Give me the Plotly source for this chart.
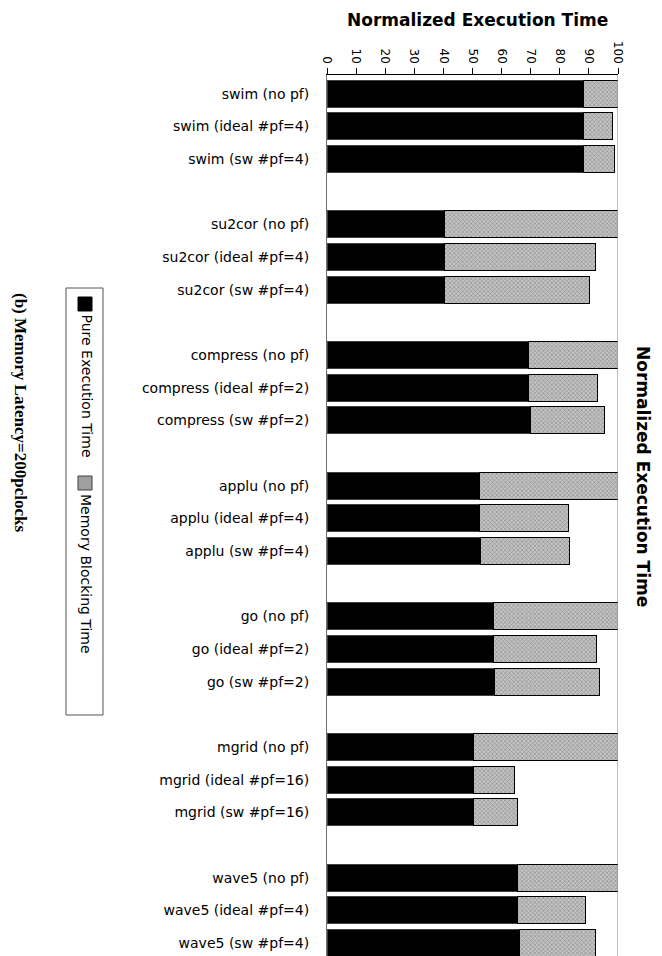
import plotly.graph_objects as go

# ---- data -----------------------------------------------------------------
benchmarks = ["swim", "su2cor", "compress", "applu", "go", "mgrid", "wave5"]
configs = [
    ["(no pf)", "(ideal #pf=4)", "(sw #pf=4)"],
    ["(no pf)", "(ideal #pf=4)", "(sw #pf=4)"],
    ["(no pf)", "(ideal #pf=2)", "(sw #pf=2)"],
    ["(no pf)", "(ideal #pf=4)", "(sw #pf=4)"],
    ["(no pf)", "(ideal #pf=2)", "(sw #pf=2)"],
    ["(no pf)", "(ideal #pf=16)", "(sw #pf=16)"],
    ["(no pf)", "(ideal #pf=4)", "(sw #pf=4)"],
]
pure_exec = [
    88.1, 88.2, 88.2,
    40.5, 40.5, 40.5,
    69.2, 69.2, 70.1,
    52.5, 52.5, 52.9,
    57.3, 57.3, 57.7,
    50.5, 50.2, 50.2,
    65.5, 65.5, 66.0,
]
mem_block = [
    11.9, 9.8, 10.7,
    59.5, 51.7, 49.6,
    30.8, 23.9, 25.2,
    47.5, 30.5, 30.6,
    42.7, 35.4, 35.9,
    49.5, 14.4, 15.2,
    34.5, 23.3, 26.2,
]
x_ticks = [0, 10, 20, 30, 40, 50, 60, 70, 80, 90, 100]

labels = []
cat_order = []
for gi, (b, cs) in enumerate(zip(benchmarks, configs)):
    for c in cs:
        lab = f"{b} {c}"
        labels.append(lab)
        cat_order.append(lab)
    if gi < len(benchmarks) - 1:
        cat_order.append(" " * (gi + 1))

# page has an 8px body margin: size the figure so it ends at the window edge
OFF = 8
W, H = 662 - OFF, 956 - OFF
# plot area in window pixels
PL, PR, PT, PB = 327, 618, 75, 956
SANS = "DejaVu Sans, Liberation Sans, Arial"


def px(xp):
    return (xp - PL) / (PR - PL)


def py(yp):
    return 1 - (yp - PT) / (PB - PT)


fig = go.Figure()
fig.add_trace(go.Bar(
    y=labels, x=pure_exec, orientation="h", name="Pure Execution Time",
    marker=dict(color="black", line=dict(color="#404040", width=1)),
    showlegend=False,
))
fig.add_trace(go.Bar(
    y=labels, x=mem_block, orientation="h", name="Memory Blocking Time",
    marker=dict(color="#c4c4c4", line=dict(color="black", width=1),
                pattern=dict(shape="x", size=3, solidity=0.4,
                             fgcolor="#5a5a5a", fillmode="overlay")),
    showlegend=False,
))

fig.update_layout(
    width=W, height=H,
    barmode="stack", bargap=0.18,
    paper_bgcolor="white", plot_bgcolor="white",
    margin=dict(l=PL - OFF, r=662 - PR, t=PT - OFF, b=956 - PB, autoexpand=False),
    font=dict(family=SANS, color="black"),
    xaxis=dict(
        side="top", range=[0, 100], tickvals=x_ticks, ticktext=[str(v) for v in x_ticks],
        tickangle=90, ticks="outside", ticklen=6, tickcolor="black",
        showline=True, linecolor="black", linewidth=1, showgrid=False,
        zeroline=False, tickfont=dict(size=12), automargin=False,
    ),
    yaxis=dict(
        type="category", categoryorder="array", categoryarray=cat_order,
        range=[26.4, -0.573], showline=True, linecolor="#707070",
        ticks="", showgrid=False, tickfont=dict(size=14),
        ticklabelstandoff=14, automargin=False,
    ),
)

# right border line at 100
fig.add_shape(type="line", xref="x", yref="paper", x0=100, x1=100, y0=0, y1=1,
              line=dict(color="#808080", width=1))

# legend box (drawn rotated as in the original)
fig.add_shape(type="rect", xref="paper", yref="paper",
              x0=px(66), x1=px(103), y0=py(715), y1=py(288),
              line=dict(color="#555555", width=1), fillcolor="rgba(0,0,0,0)")
fig.add_shape(type="rect", xref="paper", yref="paper",
              x0=px(78), x1=px(92), y0=py(311), y1=py(297),
              line=dict(color="black", width=1), fillcolor="black")
fig.add_shape(type="rect", xref="paper", yref="paper",
              x0=px(78), x1=px(92), y0=py(490), y1=py(476),
              line=dict(color="#404040", width=1), fillcolor="#a0a0a0")

annos = [
    dict(text="Pure Execution Time", x=px(86), y=py(313), xanchor="center",
         yanchor="top", textangle=90, font=dict(size=14)),
    dict(text="Memory Blocking Time", x=px(86), y=py(492), xanchor="center",
         yanchor="top", textangle=90, font=dict(size=14)),
    dict(text="<b>Normalized Execution Time</b>", x=px(477), y=py(20),
         xanchor="center", yanchor="middle", font=dict(size=17)),
    dict(text="<b>Normalized Execution Time</b>", x=px(643), y=py(476),
         xanchor="center", yanchor="middle", textangle=90, font=dict(size=17)),
    dict(text="<b>(b) Memory Latency=200pclocks</b>", x=px(21), y=py(413),
         xanchor="center", yanchor="middle", textangle=90,
         font=dict(size=17, family="Liberation Serif, Times New Roman")),
]
for a in annos:
    fig.add_annotation(xref="paper", yref="paper", showarrow=False, **a)

fig.write_html("out.html")
